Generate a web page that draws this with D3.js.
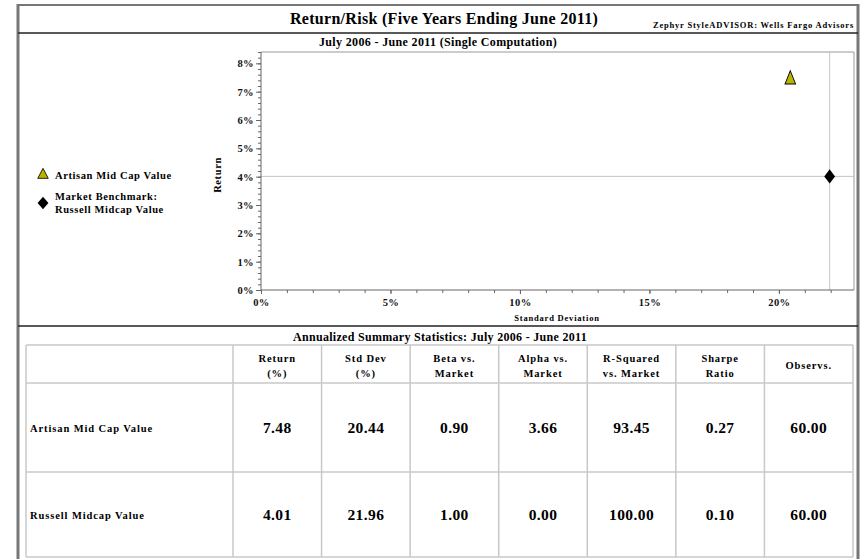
<!DOCTYPE html>
<html>
<head>
<meta charset="utf-8">
<script src="https://cdn.jsdelivr.net/npm/d3@7/dist/d3.min.js"></script>
<style>
  html, body { margin: 0; padding: 0; background: #fff; }
  svg { display: block; font-family: "Liberation Serif", "DejaVu Serif", serif; font-weight: bold; }
</style>
</head>
<body>
<svg id="chart" width="863" height="559"></svg>
<script>
// ---- data ----
const title = "Return/Risk (Five Years Ending June 2011)";
const source = "Zephyr StyleADVISOR: Wells Fargo Advisors";
const subtitle = "July 2006 - June 2011 (Single Computation)";
const tableTitle = "Annualized Summary Statistics: July 2006 - June 2011";
const seriesNames = ["Artisan Mid Cap Value", "Russell Midcap Value"];
const legendLabels = [["Artisan Mid Cap Value"], ["Market Benchmark:", "Russell Midcap Value"]];
const stdDevs = [20.44, 21.96];
const returns = [7.48, 4.01];
const xTicks = [0, 5, 10, 15, 20];
const yTicks = [0, 1, 2, 3, 4, 5, 6, 7, 8];
const columnHeaders = [["Return", "(%)"], ["Std Dev", "(%)"], ["Beta vs.", "Market"], ["Alpha vs.", "Market"], ["R-Squared", "vs. Market"], ["Sharpe", "Ratio"], ["Observs."]];
const artisanStats = ["7.48", "20.44", "0.90", "3.66", "93.45", "0.27", "60.00"];
const russellStats = ["4.01", "21.96", "1.00", "0.00", "100.00", "0.10", "60.00"];

const svg = d3.select("#chart");

// ---- outer frame ----
svg.append("line").attr("x1", 18).attr("x2", 18).attr("y1", 4).attr("y2", 559).attr("stroke", "#777").attr("stroke-width", 3);
svg.append("line").attr("x1", 858).attr("x2", 858).attr("y1", 4).attr("y2", 559).attr("stroke", "#777").attr("stroke-width", 3);
svg.append("line").attr("x1", 17).attr("x2", 859).attr("y1", 5).attr("y2", 5).attr("stroke", "#777").attr("stroke-width", 2);
svg.append("line").attr("x1", 18).attr("x2", 858).attr("y1", 33).attr("y2", 33).attr("stroke", "#222").attr("stroke-width", 1.5);
svg.append("line").attr("x1", 18).attr("x2", 858).attr("y1", 326).attr("y2", 326).attr("stroke", "#222").attr("stroke-width", 1.5);

svg.append("text").attr("x", 444).attr("y", 24).attr("text-anchor", "middle").attr("font-size", 16).attr("letter-spacing", 0.3).text(title);
svg.append("text").attr("x", 854).attr("y", 28).attr("text-anchor", "end").attr("font-size", 8.5).attr("letter-spacing", 0.8).text(source);
svg.append("text").attr("x", 438).attr("y", 46).attr("text-anchor", "middle").attr("font-size", 12).attr("letter-spacing", 0.35).text(subtitle);

// ---- scatter ----
const x = d3.scaleLinear().domain([0, 22.9]).range([261, 854]);
const y = d3.scaleLinear().domain([0, 8.4]).range([290, 52]);

// frame (top & right)
svg.append("path")
  .attr("d", `M${x(0)},${y(8.4)}H${x(22.9)}V${y(0)}`)
  .attr("fill", "none").attr("stroke", "#999").attr("stroke-width", 1);

// gridlines at benchmark
svg.append("line").attr("x1", x(0)).attr("x2", x(22.9)).attr("y1", y(returns[1])).attr("y2", y(returns[1]))
  .attr("stroke", "#c4c4c4").attr("stroke-width", 1);
svg.append("line").attr("x1", x(stdDevs[1])).attr("x2", x(stdDevs[1])).attr("y1", y(8.4)).attr("y2", y(0))
  .attr("stroke", "#c4c4c4").attr("stroke-width", 1);

// minor ticks
const yMinor = d3.range(0, 8.41, 0.2);
const xMinor = d3.range(0, 22.91, 1);
const gyMinor = svg.append("g").attr("transform", `translate(${x(0)},0)`)
  .call(d3.axisLeft(y).tickValues(yMinor).tickSize(3).tickFormat(""));
gyMinor.select(".domain").remove();
gyMinor.selectAll("line").attr("stroke", "#666");
const gxMinor = svg.append("g").attr("transform", `translate(0,${y(0)})`)
  .call(d3.axisBottom(x).tickValues(xMinor).tickSize(3).tickFormat(""));
gxMinor.select(".domain").remove();
gxMinor.selectAll("line").attr("stroke", "#666");

// major axes
const gy = svg.append("g").attr("transform", `translate(${x(0)},0)`)
  .call(d3.axisLeft(y).tickValues(yTicks).tickSize(5).tickPadding(2).tickFormat(d => d + "%"));
gy.select(".domain").attr("stroke", "#666").attr("d", `M0,${y(8.4)}V${y(0)}`);
gy.selectAll("line").attr("stroke", "#666");
gy.selectAll("text").attr("font-size", 10.5).attr("letter-spacing", 0.4).attr("font-family", "Liberation Serif").attr("font-weight", "bold").attr("fill", "#111");

const gx = svg.append("g").attr("transform", `translate(0,${y(0)})`)
  .call(d3.axisBottom(x).tickValues(xTicks).tickSize(4).tickPadding(5).tickFormat(d => d + "%"));
gx.select(".domain").attr("stroke", "#666").attr("d", `M${x(0)},0H${x(22.9)}`);
gx.selectAll("line").attr("stroke", "#666");
gx.selectAll("text").attr("font-size", 10.5).attr("letter-spacing", 0.4).attr("font-family", "Liberation Serif").attr("font-weight", "bold").attr("fill", "#111");

svg.append("text").attr("x", 557).attr("y", 321).attr("text-anchor", "middle").attr("font-size", 8.5).attr("letter-spacing", 0.8).text("Standard Deviation");
svg.append("text").attr("transform", "translate(221,175) rotate(-90)").attr("text-anchor", "middle").attr("font-size", 10.5).attr("letter-spacing", 0.6).text("Return");

// markers
const triangle = d3.symbol().type(d3.symbolTriangle).size(48);
const diamond = d3.symbol().type(d3.symbolDiamond).size(60);
svg.append("path").attr("d", triangle())
  .attr("transform", `translate(${x(stdDevs[0])},${y(returns[0]) + 1.5}) scale(1,1.45)`)
  .attr("fill", "#b8b400").attr("stroke", "#000").attr("stroke-width", 0.8);
svg.append("path").attr("d", diamond())
  .attr("transform", `translate(${x(stdDevs[1])},${y(returns[1])}) scale(1.3,1)`)
  .attr("fill", "#000");

// legend
svg.append("path").attr("d", triangle())
  .attr("transform", `translate(43,175) scale(1,1.1)`)
  .attr("fill", "#b8b400").attr("stroke", "#000").attr("stroke-width", 0.8);
svg.append("path").attr("d", diamond())
  .attr("transform", `translate(43,203) scale(1.3,0.85)`)
  .attr("fill", "#000");
const legendText = (tx, ty, s) => svg.append("text").attr("x", tx).attr("y", ty).attr("font-size", 10.5).attr("letter-spacing", 0.6).text(s);
legendText(55, 179, legendLabels[0][0]);
legendText(55, 200, legendLabels[1][0]);
legendText(55, 213, legendLabels[1][1]);

// ---- table ----
svg.append("text").attr("x", 440).attr("y", 341).attr("text-anchor", "middle").attr("font-size", 12).attr("letter-spacing", 0.3).text(tableTitle);

const colEdges = [26, 233].concat(d3.range(1, 8).map(i => 233 + i * (853 - 233) / 7));
const rowEdges = [345, 383, 472, 557];
const gridColor = "#c8c8c8";
colEdges.forEach(cx => {
  svg.append("line").attr("x1", cx).attr("x2", cx).attr("y1", rowEdges[0]).attr("y2", rowEdges[3])
    .attr("stroke", gridColor).attr("stroke-width", 1.5);
});
rowEdges.forEach(ry => {
  svg.append("line").attr("x1", colEdges[0]).attr("x2", colEdges[colEdges.length - 1]).attr("y1", ry).attr("y2", ry)
    .attr("stroke", gridColor).attr("stroke-width", 1.5);
});

const headText = (tx, ty, s) => svg.append("text").attr("x", tx).attr("y", ty).attr("text-anchor", "middle")
  .attr("font-size", 10.5).attr("letter-spacing", 0.9).text(s);
columnHeaders.forEach((lines, i) => {
  const cx = (colEdges[i + 1] + colEdges[i + 2]) / 2;
  if (lines.length === 2) {
    headText(cx, 362, lines[0]);
    headText(cx, 377, lines[1]);
  } else {
    headText(cx, 369, lines[0]);
  }
});

const rows = [artisanStats, russellStats];
rows.forEach((vals, r) => {
  const cy = (rowEdges[r + 1] + rowEdges[r + 2]) / 2;
  svg.append("text").attr("x", 30).attr("y", cy + 4).attr("font-size", 10.5).attr("letter-spacing", 0.9).text(seriesNames[r]);
  vals.forEach((v, i) => {
    const cx = (colEdges[i + 1] + colEdges[i + 2]) / 2;
    svg.append("text").attr("x", cx).attr("y", cy + 5.5).attr("text-anchor", "middle").attr("font-size", 15.5).attr("letter-spacing", 0.4).text(v);
  });
});
</script>
</body>
</html>
